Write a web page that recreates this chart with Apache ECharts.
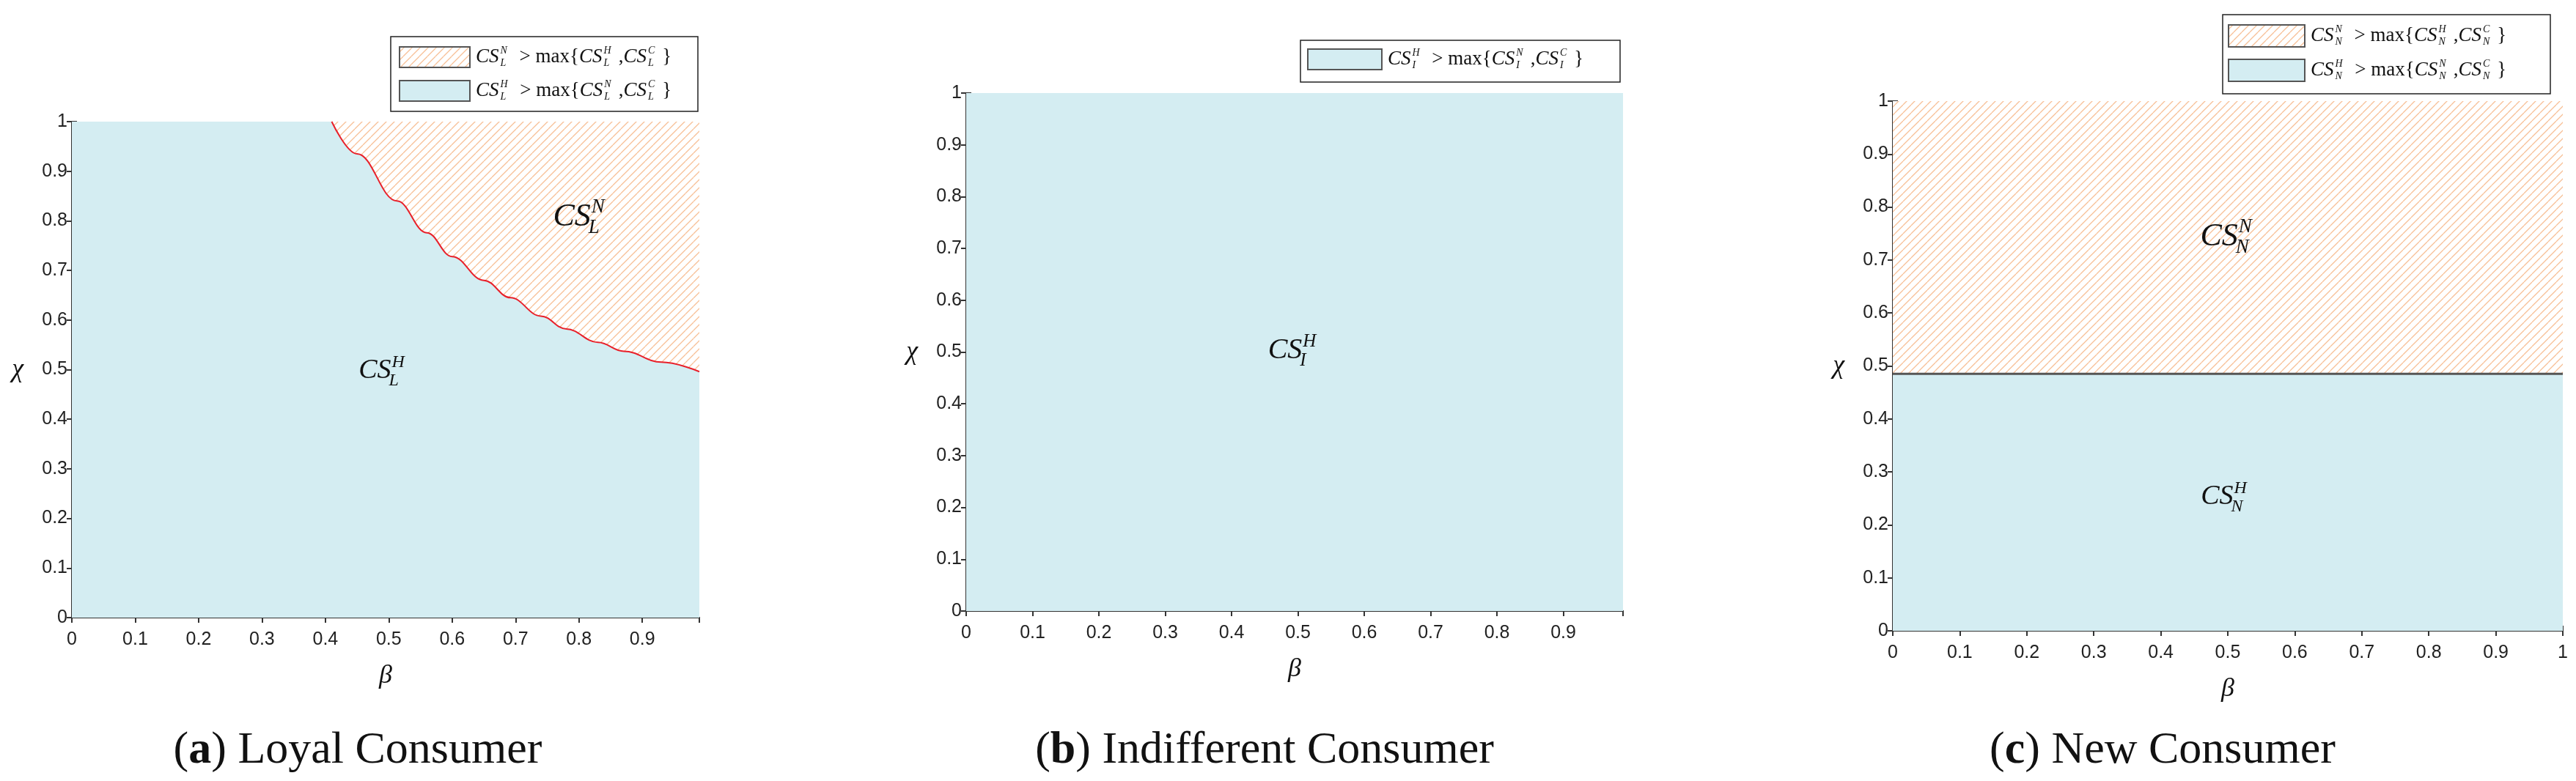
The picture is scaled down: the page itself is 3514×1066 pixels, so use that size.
<!DOCTYPE html>
<html>
<head>
<meta charset="utf-8">
<script src="https://cdn.jsdelivr.net/npm/echarts@6/dist/echarts.min.js"></script>
<style>
  html, body { margin: 0; padding: 0; background: #fff; }
  #chart { width: 3514px; height: 1066px; }
</style>
</head>
<body>
<div id="chart"></div>
<script>
// boundary of panel (a): chi above which the hatched region wins
const curveBeta = [0.41, 0.45, 0.513, 0.56, 0.60, 0.65, 0.692, 0.74, 0.78, 0.83, 0.871, 0.93, 0.99]
const curveChi = [1.0, 0.935, 0.84, 0.776, 0.728, 0.68, 0.645, 0.608, 0.582, 0.555, 0.537, 0.515, 0.496]
// panel (c): horizontal boundary
const boundaryC = 0.485
const xMaxAB = 0.99
const xMaxC = 1

const blue = '#d4edf2'
const red = '#e8202a'
const frame = '#333'
const mathFont = '"Liberation Serif", "DejaVu Serif", serif'

const chart = echarts.init(document.getElementById('chart'))

// hatch pattern
const pat = document.createElement('canvas')
pat.width = 11
pat.height = 11
const pc = pat.getContext('2d')
pc.fillStyle = '#fff'
pc.fillRect(0, 0, 11, 11)
pc.strokeStyle = '#f7bf96'
pc.lineWidth = 1.3
pc.beginPath()
for (let k = -11; k <= 22; k += 11) {
  pc.moveTo(k, 11)
  pc.lineTo(k + 11, 0)
}
pc.stroke()
const hatch = { image: pat, repeat: 'repeat' }

const mctx = document.createElement('canvas').getContext('2d')
const measure = (t, font) => { mctx.font = font; return mctx.measureText(t).width }

// lay out math-ish text: tokens are strings or {t, sup, sub}
function mathText(x, y, tokens, size) {
  const els = []
  const it = 'italic ' + size + 'px ' + mathFont
  const rm = size + 'px ' + mathFont
  const sm = 'italic ' + Math.round(size * 0.5) + 'px ' + mathFont
  tokens.forEach(tk => {
    if (typeof tk === 'string') {
      els.push({ type: 'text', style: { text: tk, x, y, font: rm, fill: '#111', verticalAlign: 'middle' } })
      x += measure(tk, rm)
    } else {
      els.push({ type: 'text', style: { text: tk.t, x, y, font: it, fill: '#111', verticalAlign: 'middle' } })
      x += measure(tk.t, it) + 2
      els.push({ type: 'text', style: { text: tk.sup, x, y: y - size * 0.32, font: sm, fill: '#111', verticalAlign: 'middle' } })
      els.push({ type: 'text', style: { text: tk.sub, x, y: y + size * 0.3, font: sm, fill: '#111', verticalAlign: 'middle' } })
      x += Math.max(measure(tk.sup, sm), measure(tk.sub, sm)) + 10
    }
  })
  return els
}

function bigMath(cx, cy, t, sup, sub, size) {
  const it = 'italic ' + size + 'px ' + mathFont
  const sm = 'italic ' + Math.round(size * 0.62) + 'px ' + mathFont
  const w = measure(t, it)
  const x = cx - (w + size * 0.4) / 2
  return [
    { type: 'text', z: 100, style: { text: t, x, y: cy, font: it, fill: '#111', verticalAlign: 'middle' } },
    { type: 'text', z: 100, style: { text: sup, x: x + w + 1, y: cy - size * 0.3, font: sm, fill: '#111', verticalAlign: 'middle' } },
    { type: 'text', z: 100, style: { text: sub, x: x + w - 3, y: cy + size * 0.35, font: sm, fill: '#111', verticalAlign: 'middle' } }
  ]
}

function legendRow(x, y, w, h, fill, tokens) {
  return [
    { type: 'rect', shape: { x, y, width: w, height: h }, style: { fill, stroke: '#555', lineWidth: 2 } },
    ...mathText(x + w + 8, y + h / 2, tokens, 27)
  ]
}

function legendBox(x, y, w, h) {
  return { type: 'rect', shape: { x, y, width: w, height: h }, style: { fill: '#fff', stroke: '#222', lineWidth: 1.5 } }
}

function caption(cx, cy, letter, rest) {
  return {
    type: 'text', style: {
      text: '{r|(}{b|' + letter + '}{r|) ' + rest + '}', x: cx, y: cy, align: 'center', verticalAlign: 'middle',
      rich: {
        r: { fontFamily: mathFont, fontSize: 62, fill: '#111' },
        b: { fontFamily: mathFont, fontSize: 62, fontWeight: 'bold', fill: '#111' }
      }
    }
  }
}

const grids = [
  { left: 98, top: 166, width: 856, height: 677 },
  { left: 1318, top: 127, width: 896, height: 707 },
  { left: 2582, top: 138, width: 914, height: 723 }
]
const xMaxes = [xMaxAB, xMaxAB, xMaxC]

const tickLabel = { fontFamily: 'Liberation Sans, Arial, sans-serif', fontSize: 25, color: '#222' }
const xAxis = []
const yAxis = []
grids.forEach((g, i) => {
  xAxis.push({
    gridIndex: i, type: 'value', min: 0, max: xMaxes[i], interval: 0.1,
    name: 'β', nameLocation: 'middle', nameGap: 62,
    nameTextStyle: { fontFamily: mathFont, fontStyle: 'italic', fontSize: 36, color: '#111' },
    axisLine: { lineStyle: { color: frame, width: 2 } },
    axisTick: { inside: true, length: 7, lineStyle: { color: frame, width: 2 } },
    axisLabel: { ...tickLabel, margin: 18, showMaxLabel: i === 2 },
    splitLine: { show: false }
  })
  xAxis.push({
    gridIndex: i, type: 'value', position: 'top', min: 0, max: xMaxes[i], interval: 0.1,
    axisLine: { lineStyle: { color: frame, width: 2 } },
    axisTick: { inside: true, length: 7, lineStyle: { color: frame, width: 2 } },
    axisLabel: { show: false }, splitLine: { show: false }
  })
  yAxis.push({
    gridIndex: i, type: 'value', min: 0, max: 1, interval: 0.1,
    name: 'χ', nameLocation: 'middle', nameGap: 66, nameRotate: 0,
    nameTextStyle: { fontFamily: mathFont, fontStyle: 'italic', fontSize: 36, color: '#111' },
    axisLine: { show: true, lineStyle: { color: frame, width: 2 } },
    axisTick: { show: true, inside: true, length: 7, lineStyle: { color: frame, width: 2 } },
    axisLabel: { ...tickLabel, margin: 6 },
    splitLine: { show: false }
  })
  yAxis.push({
    gridIndex: i, type: 'value', position: 'right', min: 0, max: 1, interval: 0.1,
    axisLine: { show: true, lineStyle: { color: frame, width: 2 } },
    axisTick: { show: true, inside: true, length: 7, lineStyle: { color: frame, width: 2 } },
    axisLabel: { show: false }, splitLine: { show: false }
  })
})

const flat = (i, y, color, area, origin, width) => ({
  type: 'line', xAxisIndex: i * 2, yAxisIndex: i * 2, symbol: 'none', silent: true,
  data: [[0, y], [xMaxes[i], y]],
  lineStyle: { color, width },
  areaStyle: { color: area, opacity: 1, origin }
})

const series = [
  flat(0, 1, blue, blue, 'start', 0),
  {
    type: 'line', xAxisIndex: 0, yAxisIndex: 0, symbol: 'none', smooth: 0.4, smoothMonotone: 'x', silent: true,
    data: curveBeta.map((b, k) => [b, curveChi[k]]),
    lineStyle: { color: red, width: 2 },
    areaStyle: { color: hatch, opacity: 1, origin: 'end' }
  },
  flat(1, 1, blue, blue, 'start', 0),
  flat(2, boundaryC, blue, blue, 'start', 0),
  flat(2, boundaryC, '#555', hatch, 'end', 3)
]

const sub = (s, L) => ({ t: 'CS', sup: s, sub: L })
const graphic = [
  legendBox(533, 50, 419, 102),
  ...legendRow(545, 64, 96, 28, hatch, [sub('N', 'L'), ' > max{', sub('H', 'L'), ',', sub('C', 'L'), '}']),
  ...legendRow(545, 110, 96, 28, blue, [sub('H', 'L'), ' > max{', sub('N', 'L'), ',', sub('C', 'L'), '}']),
  legendBox(1774, 55, 436, 57),
  ...legendRow(1784, 67, 101, 28, blue, [sub('H', 'I'), ' > max{', sub('N', 'I'), ',', sub('C', 'I'), '}']),
  legendBox(3032, 20, 447, 108),
  ...legendRow(3040, 34, 104, 30, hatch, [sub('N', 'N'), ' > max{', sub('H', 'N'), ',', sub('C', 'N'), '}']),
  ...legendRow(3040, 81, 104, 30, blue, [sub('H', 'N'), ' > max{', sub('N', 'N'), ',', sub('C', 'N'), '}']),
  ...bigMath(789, 296, 'CS', 'N', 'L', 44),
  ...bigMath(519, 506, 'CS', 'H', 'L', 38),
  ...bigMath(1761, 478, 'CS', 'H', 'I', 40),
  ...bigMath(3036, 323, 'CS', 'N', 'N', 44),
  ...bigMath(3032, 678, 'CS', 'H', 'N', 38),
  caption(488, 1025, 'a', 'Loyal Consumer'),
  caption(1725, 1025, 'b', 'Indifferent Consumer'),
  caption(2950, 1025, 'c', 'New Consumer')
]

chart.setOption({
  animation: false,
  grid: grids,
  xAxis,
  yAxis,
  series,
  graphic
})
</script>
</body>
</html>
